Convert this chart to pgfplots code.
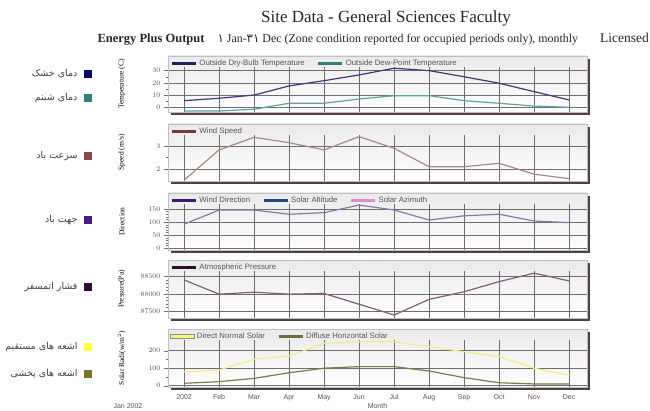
\documentclass[border=0pt]{standalone}
\usepackage{pgfplots}
\pgfplotsset{compat=1.18}
\usepackage{fontspec}
\setmainfont{Liberation Serif}
\setsansfont{Liberation Sans}
\newfontfamily\arabicfont[Script=Arabic]{DejaVu Sans}
\TeXXeTstate=1

\definecolor{dryL}{HTML}{3C3C78}
\definecolor{dryK}{HTML}{1E1E5A}
\definecolor{dewL}{HTML}{5FA39A}
\definecolor{dewK}{HTML}{2F7F76}
\definecolor{spdL}{HTML}{A68A8A}
\definecolor{spdK}{HTML}{6E3A3A}
\definecolor{dirL}{HTML}{8A78A8}
\definecolor{dirK}{HTML}{3E1A6E}
\definecolor{altK}{HTML}{1F4A78}
\definecolor{aziK}{HTML}{E090C0}
\definecolor{preL}{HTML}{7A6478}
\definecolor{preK}{HTML}{2E0E30}
\definecolor{dnsL}{HTML}{EEEE90}
\definecolor{dnsK}{HTML}{F6F67A}
\definecolor{difL}{HTML}{7E7A50}
\definecolor{difK}{HTML}{6E6E3A}
\definecolor{shadowc}{HTML}{4D4242}
\definecolor{gridc}{HTML}{6E6E6E}
\definecolor{ticklab}{HTML}{555555}
\definecolor{sqA}{HTML}{0A0A6E}
\definecolor{sqB}{HTML}{2E7F75}
\definecolor{sqC}{HTML}{8B4A4A}
\definecolor{sqD}{HTML}{4B1A8A}
\definecolor{sqE}{HTML}{2E0E30}
\definecolor{sqF}{HTML}{FFFF40}
\definecolor{sqG}{HTML}{7A7A2A}

\tikzset{vg/.style={gridc, line width=0.5pt}}

\pgfplotsset{
  panel/.style={
    scale only axis, width=419pt,
    xmin=0.54, xmax=12.51,
    xtick={1,...,12}, xticklabels={}, major x tick style={draw=none},
    ytick pos=left, tick align=outside,
    major tick length=4pt, minor tick length=2pt,
    ymajorgrids, major y grid style={gridc, line width=0.5pt},
    tick style={black!55, line width=0.4pt},
    axis line style={black!25},
    axis background/.style={top color=black!8, bottom color=white},
    yticklabel style={font=\sffamily\fontsize{7}{8}\selectfont, text=ticklab, /pgf/number format/1000 sep={}},
    ylabel style={font=\fontsize{7.5}{8}\selectfont, at={(axis description cs:-0.11,0.5)}, anchor=center},
    legend style={at={(rel axis cs:0.003,0.985)}, anchor=north west, draw=none, fill=none,
       font=\sffamily\fontsize{7.8}{9}\selectfont, text=ticklab, legend columns=-1, inner sep=1pt,
       /tikz/every even column/.append style={column sep=10pt}},
    legend image code/.code={\draw[##1, line width=3pt, line cap=butt] (0pt,0pt) -- (24pt,0pt);},
    every axis plot/.append style={line width=1.2pt, mark=none},
    scaled y ticks=false,
  },
}

\begin{document}
\begin{tikzpicture}[x=1pt,y=1pt]
\useasboundingbox (0,0) rectangle (650,410);
% titles
\node[font=\fontsize{17}{19}\selectfont, text=black!85] at (386,392) {Site Data - General Sciences Faculty};
\node[anchor=west, font=\bfseries\fontsize{12.5}{14}\selectfont, text=black!85] at (94,370) {Energy Plus Output};
\node[anchor=west, font=\fontsize{11.9}{14}\selectfont, text=black!85] at (214,370) {{\arabicfont ١} Jan-{\arabicfont ٣١} Dec (Zone condition reported for occupied periods only), monthly};
\node[anchor=east, font=\fontsize{13.5}{16}\selectfont, text=black!85, inner sep=1pt] at (650,372) {Licensed};

% left legend
\tikzset{fl/.style={anchor=east, font=\arabicfont\fontsize{9.5}{11}\selectfont, text=black!75}}
\node[fl] at (81,336) {\beginR دمای خشک\endR};
\fill[sqA] (83.5,332) rectangle (91.5,340);
\node[fl] at (81,312) {\beginR دمای شبنم\endR};
\fill[sqB] (83.5,308) rectangle (91.5,316);
\node[fl] at (81,254) {\beginR سرعت باد\endR};
\fill[sqC] (83.5,250) rectangle (91.5,258);
\node[fl] at (81,190) {\beginR جهت باد\endR};
\fill[sqD] (83.5,186) rectangle (91.5,194);
\node[fl] at (81,123) {\beginR فشار اتمسفر\endR};
\fill[sqE] (83.5,119) rectangle (91.5,127);
\node[fl] at (81,63) {\beginR اشعه های مستقیم\endR};
\fill[sqF] (83.5,59) rectangle (91.5,67);
\node[fl] at (81,36) {\beginR اشعه های پخشی\endR};
\fill[sqG] (83.5,32) rectangle (91.5,40);

% shadows
\fill[shadowc] (171,295) rectangle (590,351);
\fill[shadowc] (171,226) rectangle (590,283);
\fill[shadowc] (171,157) rectangle (590,214);
\fill[shadowc] (171,89) rectangle (590,147);
\fill[shadowc] (171,20) rectangle (590,78);

% Panel 1: temperature
\begin{axis}[panel, at={(168pt,354pt)}, anchor=north west, height=56pt,
  ymin=-3.85, ymax=42, ytick={0,10,20,30}, minor y tick num=1,
  ylabel={Temperature (C)}]
\pgfplotsinvokeforeach{1,...,12}{\draw[vg] (axis cs:#1,-3.85) -- (axis cs:#1,33.3);}
\addplot[dryL, legend image post style={color=dryK}] coordinates {(1,5.4)(2,7.4)(3,10)(4,17.5)(5,21.8)(6,26.5)(7,32)(8,30)(9,25)(10,19.7)(11,12.8)(12,6)};
\addlegendentry{Outside Dry-Bulb Temperature}
\addplot[dewL, legend image post style={color=dewK}] coordinates {(1,-3)(2,-3)(3,-1.6)(4,3.3)(5,3.3)(6,6.8)(7,9.5)(8,9.5)(9,5.4)(10,3.3)(11,1)(12,0)};
\addlegendentry{Outside Dew-Point Temperature}
\end{axis}

% Panel 2: wind speed
\begin{axis}[panel, at={(168pt,286pt)}, anchor=north west, height=57pt,
  ymin=1.5, ymax=3.94, ytick={2,3}, minor y tick num=1,
  ylabel={Speed (m/s)}]
\pgfplotsinvokeforeach{1,...,12}{\draw[vg] (axis cs:#1,1.5) -- (axis cs:#1,3.476);}
\addplot[spdL, legend image post style={color=spdK}] coordinates {(1,1.54)(2,2.83)(3,3.37)(4,3.14)(5,2.83)(6,3.4)(7,2.9)(8,2.11)(9,2.11)(10,2.26)(11,1.79)(12,1.6)};
\addlegendentry{Wind Speed}
\end{axis}

% Panel 3: direction
\begin{axis}[panel, at={(168pt,217pt)}, anchor=north west, height=57pt,
  ymin=-6.5, ymax=211, ytick={0,50,100,150}, minor y tick num=4,
  ylabel={Direction}]
\pgfplotsinvokeforeach{1,...,12}{\draw[vg] (axis cs:#1,-6.5) -- (axis cs:#1,169.7);}
\addplot[dirL, legend image post style={color=dirK}] coordinates {(1,92)(2,146)(3,146)(4,130)(5,136)(6,165)(7,146)(8,108)(9,124)(10,130)(11,104)(12,98)};
\addlegendentry{Wind Direction}
\addlegendimage{altK}
\addlegendentry{Solar Altitude}
\addlegendimage{aziK}
\addlegendentry{Solar Azimuth}
\end{axis}

% Panel 4: pressure
\begin{axis}[panel, at={(168pt,150pt)}, anchor=north west, height=58pt,
  ymin=87297, ymax=88983, ytick={87500,88000,88500}, minor y tick num=4,
  ylabel={Pressure(Pa)}]
\pgfplotsinvokeforeach{1,...,12}{\draw[vg] (axis cs:#1,87297) -- (axis cs:#1,88663);}
\addplot[preL, legend image post style={color=preK}] coordinates {(1,88404)(2,87990)(3,88047)(4,87990)(5,88010)(6,87697)(7,87384)(8,87840)(9,88060)(10,88355)(11,88600)(12,88375)};
\addlegendentry{Atmospheric Pressure}
\end{axis}

% Panel 5: solar
\begin{axis}[panel, at={(168pt,81pt)}, anchor=north west, height=58pt,
  ymin=-7.4, ymax=324, ytick={0,100,200}, minor y tick num=1,
  ylabel={Solar Radi(w/m$^2$)},
  xticklabels={2002,Feb,Mar,Apr,May,Jun,Jul,Aug,Sep,Oct,Nov,Dec},
  xticklabel style={font=\sffamily\fontsize{7}{8}\selectfont, text=ticklab},
  xlabel={Month},
  xlabel style={font=\sffamily\fontsize{7}{8}\selectfont, text=ticklab, at={(axis description cs:0.5,-0.33)}, anchor=center}]
\pgfplotsinvokeforeach{1,...,12}{\draw[vg] (axis cs:#1,-7.4) -- (axis cs:#1,261);}
\addplot[dnsL, legend image code/.code={\draw[draw=black!45, fill=dnsK, line width=0.5pt] (0pt,-2pt) rectangle (24pt,2pt);}]
  coordinates {(1,80)(2,90)(3,151)(4,170)(5,242)(6,251)(7,251)(8,223)(9,194)(10,166)(11,100)(12,61)};
\addlegendentry{Direct Normal Solar}
\addplot[difL, legend image post style={color=difK}] coordinates {(1,14)(2,23)(3,42)(4,74)(5,100)(6,109)(7,109)(8,84)(9,46)(10,17)(11,10)(12,10)};
\addlegendentry{Diffuse Horizontal Solar}
\end{axis}

\node[font=\sffamily\fontsize{7}{8}\selectfont, text=ticklab] at (128,4) {Jan 2002};
\end{tikzpicture}
\end{document}
